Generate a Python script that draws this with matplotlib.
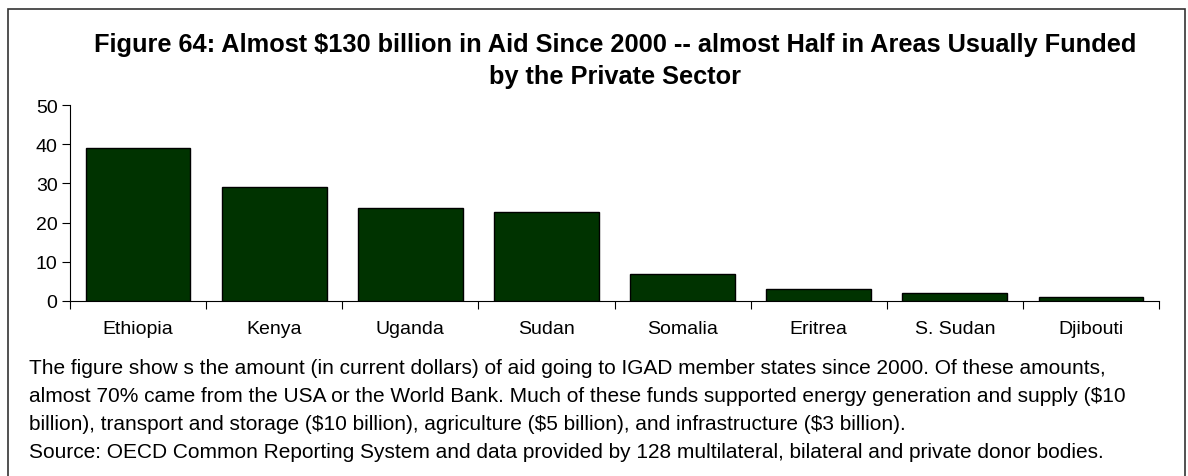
import matplotlib
matplotlib.use('Agg')
import matplotlib.pyplot as plt
from matplotlib.patches import Rectangle

countries = ['Ethiopia', 'Kenya', 'Uganda', 'Sudan', 'Somalia', 'Eritrea', 'S. Sudan', 'Djibouti']
aid = [39.0, 29.2, 23.7, 22.7, 6.9, 3.0, 2.0, 1.0]
yticks = [0, 10, 20, 30, 40, 50]

title = ('Figure 64: Almost $130 billion in Aid Since 2000 -- almost Half in Areas Usually Funded\n'
         'by the Private Sector')
caption = ('The figure show s the amount (in current dollars) of aid going to IGAD member states since 2000. Of these amounts,\n'
           'almost 70% came from the USA or the World Bank. Much of these funds supported energy generation and supply ($10\n'
           'billion), transport and storage ($10 billion), agriculture ($5 billion), and infrastructure ($3 billion).\n'
           'Source: OECD Common Reporting System and data provided by 128 multilateral, bilateral and private donor bodies.')

plt.rcParams['font.family'] = ['Liberation Sans', 'DejaVu Sans']

fig = plt.figure(figsize=(11.88, 4.77), dpi=100)
W, H = 1188, 477

# outer frame (bottom edge falls outside the picture)
fig.patches.append(Rectangle((8 / W, -0.1), (1185 - 8) / W, 1.1 - 10 / H,
                             transform=fig.transFigure, fill=False,
                             edgecolor='#333333', linewidth=1.2))

ax = fig.add_axes([70 / W, 1 - 302 / H, (1159 - 70) / W, (302 - 106) / H])
x = [i + 0.5 for i in range(len(countries))]
ax.bar(x, aid, width=0.77, color='#003300', edgecolor='black', linewidth=1)

ax.set_xlim(0, len(countries))
ax.set_ylim(0, 50)
ax.set_yticks(yticks)
ax.set_xticks(range(len(countries) + 1))
ax.set_xticklabels([])
ax.set_xticks(x, minor=True)
ax.set_xticklabels(countries, minor=True)
ax.tick_params(axis='x', which='minor', length=0, pad=14, labelsize=14)
ax.tick_params(axis='x', which='major', length=6, direction='out')
ax.tick_params(axis='y', length=6, direction='out', labelsize=14, pad=3)
for s in ['top', 'right']:
    ax.spines[s].set_visible(False)

fig.text(615 / W, 1 - 61 / H, title, ha='center', va='center',
         fontsize=18.3, fontweight='bold', linespacing=1.42)
fig.text(29 / W, 1 - 410.5 / H, caption, ha='left', va='center',
         fontsize=15, linespacing=1.62)

fig.savefig('out.png', dpi=100)
